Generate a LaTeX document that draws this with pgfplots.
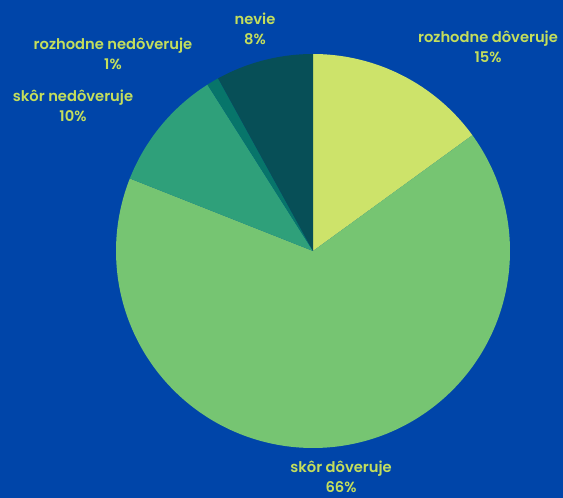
\documentclass[border=0pt]{standalone}
\usepackage{pgfplots}
\pgfplotsset{compat=1.18}
\usepackage{fontspec}
\setmainfont{Poppins}[BoldFont={* SemiBold}]
\definecolor{bg}{HTML}{0045A9}
\definecolor{lab}{HTML}{C4DE5C}
\definecolor{c1}{HTML}{CDE36A}
\definecolor{c2}{HTML}{76C572}
\definecolor{c3}{HTML}{2FA07A}
\definecolor{c4}{HTML}{07756A}
\definecolor{c5}{HTML}{074F57}
\begin{document}
\begin{tikzpicture}[lbl/.style={font=\fontsize{14.7}{20}\selectfont\bfseries, text=lab, align=center, inner sep=0pt}]
\fill[bg] (0,0) rectangle (563pt,498pt);
\begin{axis}[
  at={(0,0)}, anchor=south west,
  scale only axis, width=563pt, height=498pt,
  xmin=0, xmax=563, ymin=0, ymax=498,
  hide axis,
]
% shares in percent, clockwise from the top: 15, 66, 10, 1, 8
\addplot[fill=c1, draw=none, samples=60, domain=90-3.6*15:90]
  ({313+197*cos(x)},{247+197*sin(x)}) -- (axis cs:313,247) -- cycle;
\addplot[fill=c2, draw=none, samples=200, domain=90-3.6*81:90-3.6*15]
  ({313+197*cos(x)},{247+197*sin(x)}) -- (axis cs:313,247) -- cycle;
\addplot[fill=c3, draw=none, samples=40, domain=90-3.6*91:90-3.6*81]
  ({313+197*cos(x)},{247+197*sin(x)}) -- (axis cs:313,247) -- cycle;
\addplot[fill=c4, draw=none, samples=10, domain=90-3.6*92:90-3.6*91]
  ({313+197*cos(x)},{247+197*sin(x)}) -- (axis cs:313,247) -- cycle;
\addplot[fill=c5, draw=none, samples=40, domain=90-3.6*100:90-3.6*92]
  ({313+197*cos(x)},{247+197*sin(x)}) -- (axis cs:313,247) -- cycle;
\node[lbl] at (axis cs:488,451) {rozhodne dôveruje\\15\%};
\node[lbl] at (axis cs:341,21.5) {skôr dôveruje\\66\%};
\node[lbl] at (axis cs:73,392) {skôr nedôveruje\\10\%};
\node[lbl] at (axis cs:113,444) {rozhodne nedôveruje\\1\%};
\node[lbl] at (axis cs:255,469) {nevie\\8\%};
\end{axis}
\end{tikzpicture}
\end{document}
